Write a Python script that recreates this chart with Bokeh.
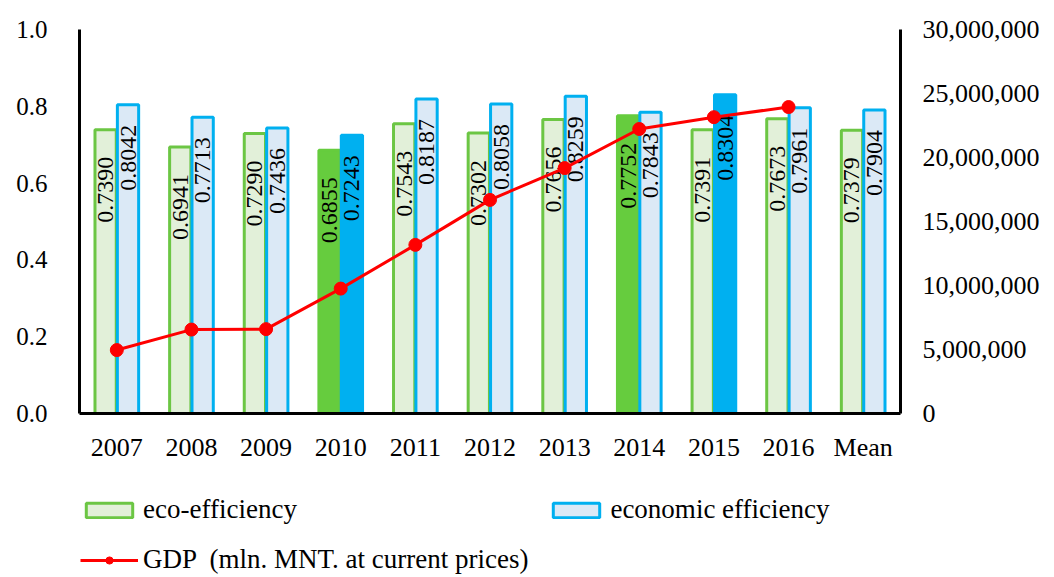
import math
from bokeh.plotting import figure
from bokeh.layouts import column
from bokeh.models import (ColumnDataSource, FactorRange, Range1d, LinearAxis,
                          FixedTicker, NumeralTickFormatter, Legend, LegendItem)
from bokeh.transform import dodge
from bokeh.core.properties import value
from bokeh.embed import file_html
from bokeh.resources import INLINE

# ---------------- data ----------------
categories = ["2007", "2008", "2009", "2010", "2011", "2012", "2013",
              "2014", "2015", "2016", "Mean"]
eco_efficiency = [0.7390, 0.6941, 0.7290, 0.6855, 0.7543, 0.7302, 0.7656,
                  0.7752, 0.7391, 0.7673, 0.7379]
economic_efficiency = [0.8042, 0.7713, 0.7436, 0.7243, 0.8187, 0.8058, 0.8259,
                       0.7843, 0.8304, 0.7961, 0.7904]
gdp_years = ["2007", "2008", "2009", "2010", "2011", "2012", "2013",
             "2014", "2015", "2016"]
gdp_values = [4956000, 6556000, 6591000, 9757000, 13174000, 16688000,
              19174000, 22227000, 23150000, 23943000]
left_ticks = [0.0, 0.2, 0.4, 0.6, 0.8, 1.0]
right_ticks = [0, 5000000, 10000000, 15000000, 20000000, 25000000, 30000000]
legend_labels = ["eco-efficiency", "economic efficiency",
                 "GDP \u00a0(mln. MNT. at current prices)"]

# ---------------- styles ----------------
FONT = "Liberation Serif"
GREEN_EDGE = "#6cc644"
GREEN_FILL = "#e2f0d9"
GREEN_SOLID = "#66cc3e"
BLUE_EDGE = "#00b0f0"
BLUE_FILL = "#dbe9f6"
BLUE_SOLID = "#00b0f0"
RED = "#ff0000"
NAN = float("nan")


def highlight(vals, light, solid, edge):
    years_part = vals[:-1]
    lo = years_part.index(min(years_part))
    hi = years_part.index(max(years_part))
    fills, lines = [], []
    for i in range(len(vals)):
        if i in (lo, hi):
            fills.append(solid)
            lines.append(solid)
        else:
            fills.append(light)
            lines.append(edge)
    return fills, lines


eco_fill, eco_line = highlight(eco_efficiency, GREEN_FILL, GREEN_SOLID, GREEN_EDGE)
econ_fill, econ_line = highlight(economic_efficiency, BLUE_FILL, BLUE_SOLID, BLUE_EDGE)

src = ColumnDataSource(dict(
    cat=categories,
    eco=eco_efficiency,
    econ=economic_efficiency,
    eco_lbl=["%.4f" % v for v in eco_efficiency],
    econ_lbl=["%.4f" % v for v in economic_efficiency],
    eco_fill=eco_fill, eco_line=eco_line,
    econ_fill=econ_fill, econ_line=econ_line,
))
gdp_src = ColumnDataSource(dict(year=gdp_years, gdp=gdp_values))

W = 1050
H1 = 470
H2 = 105
p = figure(width=W, height=H1, x_range=FactorRange(factors=categories, range_padding=0),
           y_range=Range1d(0, 1), output_backend="svg", toolbar_location=None,
           min_border_left=79, min_border_right=W - 900, min_border_top=29,
           min_border_bottom=H1 - 413)
p.outline_line_color = None
p.xgrid.grid_line_color = None
p.ygrid.grid_line_color = None
p.background_fill_color = "white"

p.extra_y_ranges = {"gdp": Range1d(0, 30000000)}

bw = 0.285
p.vbar(x=dodge("cat", -0.15, range=p.x_range), top="eco", width=bw, source=src,
       fill_color="eco_fill", line_color="eco_line", line_width=3)
p.vbar(x=dodge("cat", 0.15, range=p.x_range), top="econ", width=bw, source=src,
       fill_color="econ_fill", line_color="econ_line", line_width=3)

p.text(x=dodge("cat", -0.15, range=p.x_range), y="eco", text="eco_lbl", source=src,
       angle=math.pi / 2, text_align="right", text_baseline="middle", y_offset=27,
       text_font=value(FONT), text_font_size="24px", text_color="black")
p.text(x=dodge("cat", 0.15, range=p.x_range), y="econ", text="econ_lbl", source=src,
       angle=math.pi / 2, text_align="right", text_baseline="middle", y_offset=20,
       text_font=value(FONT), text_font_size="24px", text_color="black")

p.line(x="year", y="gdp", source=gdp_src, y_range_name="gdp",
       line_color=RED, line_width=3)
p.scatter(x="year", y="gdp", source=gdp_src, y_range_name="gdp",
          size=13, fill_color=RED, line_color=RED)

# left axis
ya = p.yaxis[0]
ya.ticker = FixedTicker(ticks=left_ticks)
ya.formatter = NumeralTickFormatter(format="0.0")
# bottom axis
xa = p.xaxis[0]
for ax in (ya, xa):
    ax.axis_line_width = 3
    ax.axis_line_color = "black"
    ax.major_tick_line_color = None
    ax.minor_tick_line_color = None
    ax.major_label_text_font = FONT
    ax.major_label_text_color = "black"
ya.major_label_text_font_size = "25px"
ya.major_label_standoff = 26
xa.major_label_text_font_size = "26px"
xa.major_label_standoff = 13

ra = LinearAxis(y_range_name="gdp", ticker=FixedTicker(ticks=right_ticks),
                formatter=NumeralTickFormatter(format="0,0"))
ra.axis_line_width = 3
ra.axis_line_color = "black"
ra.major_tick_line_color = None
ra.minor_tick_line_color = None
ra.major_label_text_font = FONT
ra.major_label_text_font_size = "26px"
ra.major_label_text_color = "black"
ra.major_label_standoff = 16
p.add_layout(ra, "right")

# ---------------- legend strip ----------------
p2 = figure(width=W, height=H2, x_range=Range1d(0, 1), y_range=Range1d(0, 1),
            output_backend="svg", toolbar_location=None,
            x_axis_type=None, y_axis_type=None, min_border=0)
p2.outline_line_color = None
p2.xgrid.grid_line_color = None
p2.ygrid.grid_line_color = None
# legend-only renderers: a single undefined (NaN) point so nothing is drawn in the strip
g_eco = p2.vbar(x=[NAN], top=[NAN], width=0.1, fill_color=GREEN_FILL,
                line_color=GREEN_EDGE, line_width=3)
g_econ = p2.vbar(x=[NAN], top=[NAN], width=0.1, fill_color=BLUE_FILL,
                 line_color=BLUE_EDGE, line_width=3)
g_line = p2.line(x=[NAN], y=[NAN], line_color=RED, line_width=3)
g_dot = p2.scatter(x=[NAN], y=[NAN], size=13, fill_color=RED, line_color=RED)

legend = Legend(items=[
    LegendItem(label=legend_labels[0], renderers=[g_eco]),
    LegendItem(label=legend_labels[1], renderers=[g_econ]),
    LegendItem(label=legend_labels[2], renderers=[g_line, g_dot]),
], location=(1, 0), orientation="horizontal", ncols=2,
    glyph_width=58, glyph_height=18, label_height=20, label_standoff=5,
    spacing=19, padding=0, margin=0, border_line_color=None,
    background_fill_alpha=0, label_text_font=FONT, label_text_font_size="27px",
    label_text_color="black")
p2.add_layout(legend, "center")

layout = column(p, p2, spacing=0)
open("out.html", "w").write(file_html(layout, INLINE))
